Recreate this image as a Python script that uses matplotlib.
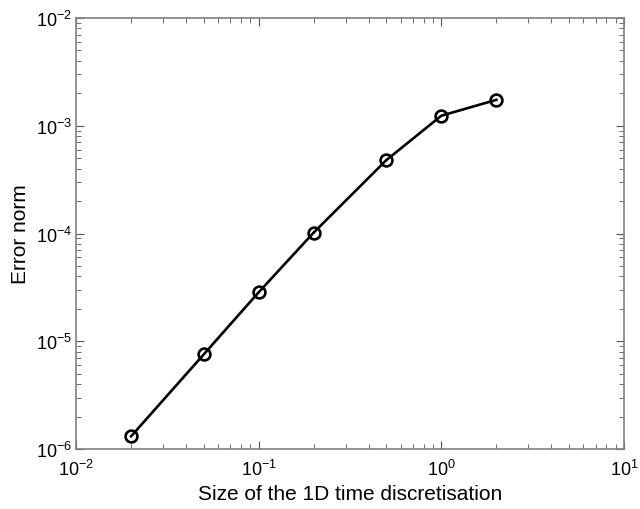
import matplotlib
matplotlib.use("Agg")
import matplotlib.pyplot as plt

step_size = [0.02, 0.05, 0.1, 0.2, 0.5, 1.0, 2.0]
error_norm = [1.31e-6, 7.55e-6, 2.85e-5, 1.02e-4, 4.8e-4, 1.24e-3, 1.74e-3]

plt.rcParams['font.family'] = ['Liberation Sans', 'DejaVu Sans']
plt.rcParams['mathtext.fontset'] = 'custom'
plt.rcParams['mathtext.rm'] = 'Liberation Sans'
plt.rcParams['mathtext.it'] = 'Liberation Sans'

fig = plt.figure(figsize=(6.4, 5.1), dpi=100)
ax = fig.add_axes([0.1188, 0.1176, 0.8562, 0.8451])
ax.plot(step_size, error_norm, color='black', lw=1.9, marker='o', ms=8.5,
        mfc='none', mec='black', mew=1.9)
ax.set_xscale('log')
ax.set_yscale('log')
ax.set_xlim(1e-2, 1e1)
ax.set_ylim(1e-6, 1e-2)
ax.set_xlabel('Size of the 1D time discretisation', fontsize=15, labelpad=4)
ax.set_ylabel('Error norm', fontsize=15, labelpad=4)
ax.tick_params(which='both', direction='in', top=True, right=True, labelsize=13,
               color='#555555')
ax.tick_params(axis='x', which='both', pad=7)
ax.tick_params(axis='y', which='both', pad=3)
ax.tick_params(which='major', length=6)
ax.tick_params(which='minor', length=3.5)
for s in ax.spines.values():
    s.set_color('#808080')
    s.set_linewidth(1.2)
fig.savefig('out.png', dpi=100)
